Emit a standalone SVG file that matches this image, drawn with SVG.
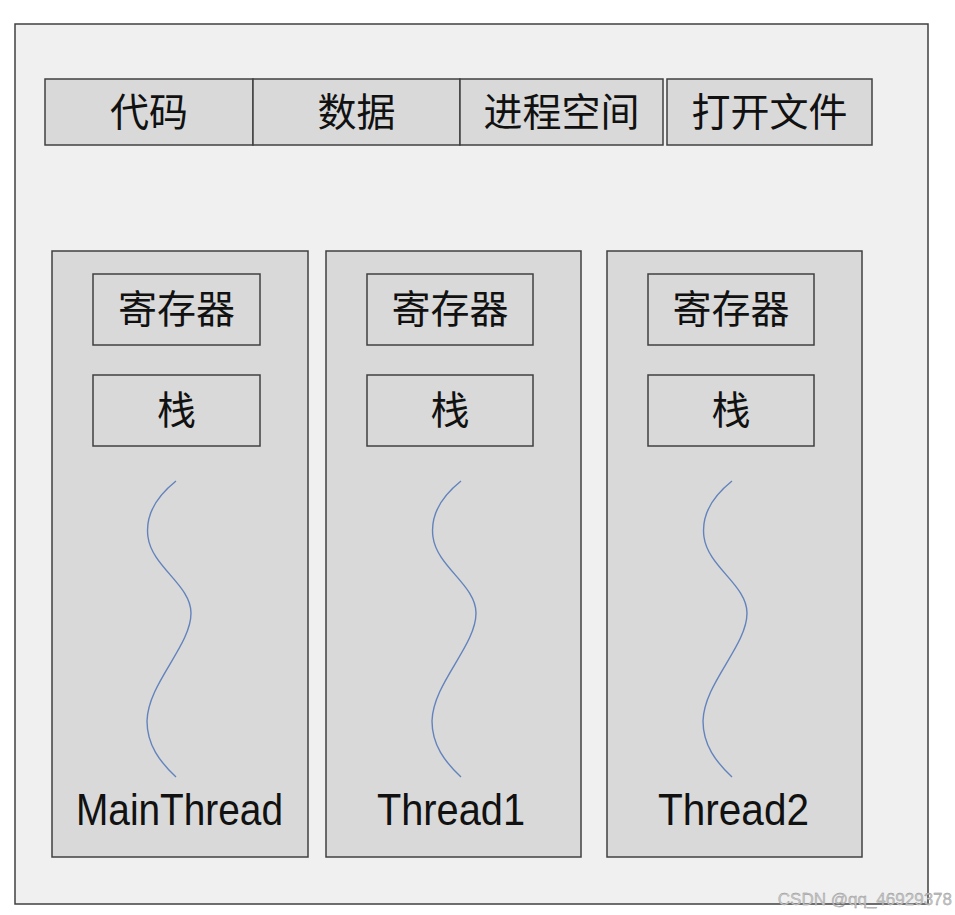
<svg xmlns="http://www.w3.org/2000/svg" width="955" height="915" viewBox="0 0 955 915">
<style>
.box{fill:#d9d9d9;stroke:#404040;stroke-width:1.5}
.cjk{font-family:"Noto Sans CJK SC","Noto Sans",sans-serif;font-size:39px;fill:#111;text-anchor:middle}
.lat{font-family:"Liberation Sans",Arial,sans-serif;font-size:44px;fill:#111;text-anchor:middle}
.wave{fill:none;stroke:#6383bd;stroke-width:1.4}
</style>
<defs>
<path id="w" class="wave" d="M176,481 C156,497 145,515 148,537 C152,567 191,585 191,613 C191,646 148,683 147,721 C147,745 160,762 176,777"/>
</defs>
<rect width="955" height="915" fill="#ffffff"/>
<g id="process">
<rect x="15" y="24" width="913" height="880" fill="#f0f0f0" stroke="#404040" stroke-width="1.5"/>
</g>
<g id="resources">
<g id="code"><rect class="box" x="45" y="79" width="208" height="66"/><text class="cjk" x="149" y="126">代码</text></g>
<g id="data"><rect class="box" x="253" y="79" width="207" height="66"/><text class="cjk" x="356.5" y="126">数据</text></g>
<g id="space"><rect class="box" x="460" y="79" width="203" height="66"/><text class="cjk" x="561.5" y="126">进程空间</text></g>
<g id="files"><rect class="box" x="667" y="79" width="205" height="66"/><text class="cjk" x="769.5" y="126">打开文件</text></g>
</g>
<g id="mainthread">
<rect class="box" x="52" y="251" width="256" height="606"/>
<rect class="box" x="93" y="274" width="167" height="71"/><text class="cjk" x="176.5" y="323">寄存器</text>
<rect class="box" x="93" y="375" width="167" height="71"/><text class="cjk" x="176.5" y="424">栈</text>
<use href="#w"/>
<text class="lat" x="179.5" y="825" textLength="207" lengthAdjust="spacingAndGlyphs">MainThread</text>
</g>
<g id="thread1">
<rect class="box" x="326" y="251" width="255" height="606"/>
<rect class="box" x="367" y="274" width="166" height="71"/><text class="cjk" x="450" y="323">寄存器</text>
<rect class="box" x="367" y="375" width="166" height="71"/><text class="cjk" x="450" y="424">栈</text>
<use href="#w" transform="translate(285,0)"/>
<text class="lat" x="451" y="825" textLength="148" lengthAdjust="spacingAndGlyphs">Thread1</text>
</g>
<g id="thread2">
<rect class="box" x="607" y="251" width="255" height="606"/>
<rect class="box" x="648" y="274" width="166" height="71"/><text class="cjk" x="731" y="323">寄存器</text>
<rect class="box" x="648" y="375" width="166" height="71"/><text class="cjk" x="731" y="424">栈</text>
<use href="#w" transform="translate(556,0)"/>
<text class="lat" x="733.5" y="825" textLength="151" lengthAdjust="spacingAndGlyphs">Thread2</text>
</g>
<g id="connectors"></g>
<text x="952" y="905" font-family="Liberation Sans,sans-serif" font-size="17" fill="#c8c8c8" stroke="#8a8a8a" stroke-width="0.3" text-anchor="end">CSDN @qq_46929378</text>
</svg>
